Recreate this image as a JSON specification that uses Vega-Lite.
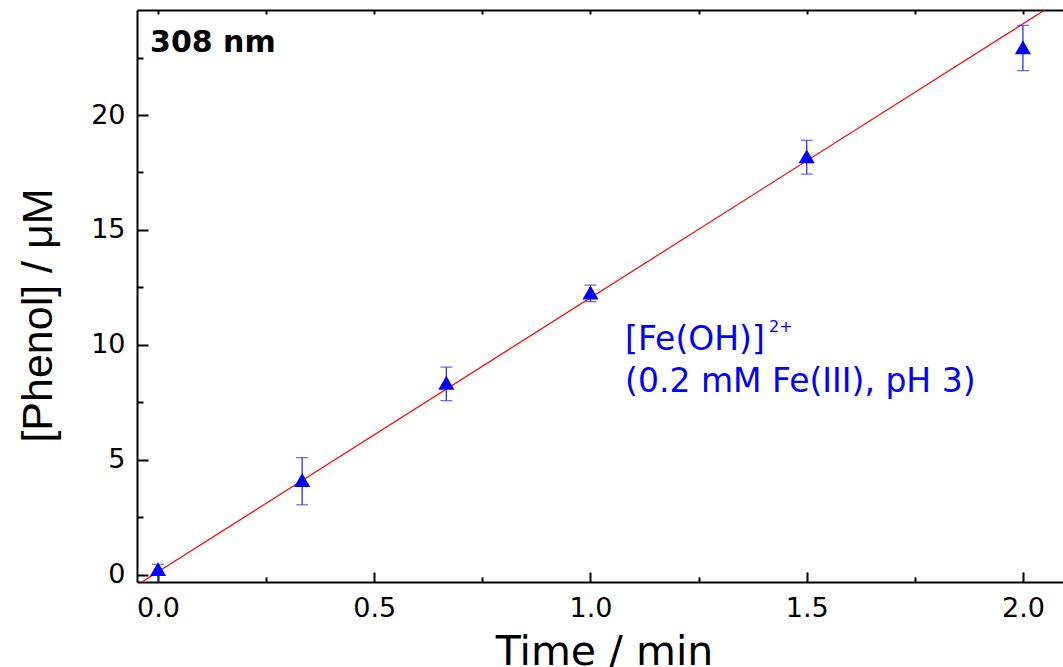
{
  "$schema": "https://vega.github.io/schema/vega-lite/v6.json",
  "width": 927,
  "height": 572,
  "autosize": {"type": "none"},
  "padding": {"left": 137, "top": 10, "right": 0, "bottom": 85},
  "background": "white",
  "config": {
    "view": {"stroke": null},
    "axis": {
      "grid": false,
      "domainColor": "black",
      "domainWidth": 2,
      "tickColor": "black",
      "tickWidth": 2,
      "labelColor": "black",
      "titleColor": "black",
      "labelFont": "DejaVu Sans",
      "labelFontSize": 27
    }
  },
  "datasets": {
    "pts": [
      {"t": 0.0, "c": 0.24, "lo": -0.4, "hi": 0.45},
      {"t": 0.3333, "c": 4.12, "lo": 3.04, "hi": 5.09},
      {"t": 0.6667, "c": 8.35, "lo": 7.57, "hi": 9.03},
      {"t": 1.0, "c": 12.28, "lo": 11.88, "hi": 12.6},
      {"t": 1.5, "c": 18.2, "lo": 17.43, "hi": 18.9},
      {"t": 2.0, "c": 22.95, "lo": 21.93, "hi": 23.9}
    ],
    "fit": [
      {"t": -0.0486, "c": -0.456},
      {"t": 2.095, "c": 25.1}
    ],
    "lbl308": [{"t": -0.0185, "c": 22.74, "label": "308 nm"}],
    "lblMain": [
      {"t": 1.08, "c": 9.78, "label": "[Fe(OH)]"},
      {"t": 1.08, "c": 7.96, "label": "(0.2 mM Fe(III), pH 3)"}
    ],
    "lblSup": [{"t": 1.413, "c": 10.57, "label": "2+"}]
  },
  "layer": [
    {
      "data": {"name": "fit"},
      "mark": {"type": "line", "color": "#ff0000", "strokeWidth": 1.2, "clip": true},
      "encoding": {
        "x": {
          "field": "t", "type": "quantitative",
          "scale": {"domain": [-0.0486, 2.095], "nice": false, "zero": false},
          "axis": {
            "orient": "bottom",
            "values": [0, 0.25, 0.5, 0.75, 1.0, 1.25, 1.5, 1.75, 2.0],
            "tickSize": {"condition": {"test": "datum.value * 2 === round(datum.value * 2)", "value": -10}, "value": -5},
            "labelExpr": "datum.value * 2 === round(datum.value * 2) ? format(datum.value, '.1f') : ''",
            "labelFlush": false,
            "labelOverlap": false,
            "labelPadding": 23,
            "title": "Time / min",
            "titleFont": "DejaVu Sans",
            "titleFontSize": 41,
            "titleFontWeight": "normal",
            "titleX": 467,
            "titleY": 82,
            "titleBaseline": "alphabetic",
            "titleAlign": "center"
          }
        },
        "y": {
          "field": "c", "type": "quantitative",
          "scale": {"domain": [-0.32, 24.57], "nice": false, "zero": false},
          "axis": {
            "orient": "left",
            "values": [0, 2.5, 5, 7.5, 10, 12.5, 15, 17.5, 20, 22.5],
            "tickSize": {"condition": {"test": "datum.value / 5 === round(datum.value / 5)", "value": -11}, "value": -6},
            "labelExpr": "datum.value / 5 === round(datum.value / 5) ? format(datum.value, 'd') : ''",
            "labelOverlap": false,
            "labelFlush": false,
            "labelPadding": 23,
            "title": "[Phenol] / μM",
            "titleFont": "Liberation Sans",
            "titleFontSize": 43,
            "titleFontWeight": "normal",
            "titleAngle": 270,
            "titleX": -86,
            "titleY": 305,
            "titleBaseline": "alphabetic",
            "titleAlign": "center"
          }
        }
      }
    },
    {
      "data": {"name": "pts"},
      "mark": {"type": "rule", "color": "#3030ff", "strokeWidth": 1.3, "clip": true},
      "encoding": {
        "x": {"field": "t", "type": "quantitative", "axis": null},
        "y": {"field": "lo", "type": "quantitative"},
        "y2": {"field": "hi"}
      }
    },
    {
      "data": {"name": "pts"},
      "mark": {"type": "tick", "orient": "horizontal", "color": "#3030ff", "thickness": 1.3, "size": 12, "clip": true},
      "encoding": {
        "x": {"field": "t", "type": "quantitative", "axis": null},
        "y": {"field": "lo", "type": "quantitative"}
      }
    },
    {
      "data": {"name": "pts"},
      "mark": {"type": "tick", "orient": "horizontal", "color": "#3030ff", "thickness": 1.3, "size": 12, "clip": true},
      "encoding": {
        "x": {"field": "t", "type": "quantitative", "axis": null},
        "y": {"field": "hi", "type": "quantitative"}
      }
    },
    {
      "data": {"name": "pts"},
      "mark": {"type": "point", "shape": "triangle-up", "filled": true, "color": "#0000ff", "opacity": 1, "size": 260},
      "encoding": {
        "x": {
          "field": "t", "type": "quantitative",
          "axis": {
            "orient": "top",
            "values": [0, 0.25, 0.5, 0.75, 1.0, 1.25, 1.5, 1.75, 2.0],
            "tickSize": -4,
            "labels": false,
            "title": null
          }
        },
        "y": {"field": "c", "type": "quantitative"}
      }
    },
    {
      "data": {"name": "lbl308"},
      "mark": {"type": "text", "align": "left", "baseline": "alphabetic", "font": "DejaVu Sans", "fontWeight": "bold", "fontSize": 30, "color": "black"},
      "encoding": {
        "x": {"field": "t", "type": "quantitative", "axis": null},
        "y": {"field": "c", "type": "quantitative"},
        "text": {"field": "label"}
      }
    },
    {
      "data": {"name": "lblMain"},
      "mark": {"type": "text", "align": "left", "baseline": "alphabetic", "font": "DejaVu Sans", "fontSize": 33, "color": "#0000ff"},
      "encoding": {
        "x": {"field": "t", "type": "quantitative", "axis": null},
        "y": {"field": "c", "type": "quantitative"},
        "text": {"field": "label"}
      }
    },
    {
      "data": {"name": "lblSup"},
      "mark": {"type": "text", "align": "left", "baseline": "alphabetic", "font": "DejaVu Sans", "fontSize": 16, "color": "#0000ff"},
      "encoding": {
        "x": {"field": "t", "type": "quantitative", "axis": null},
        "y": {"field": "c", "type": "quantitative"},
        "text": {"field": "label"}
      }
    }
  ]
}
